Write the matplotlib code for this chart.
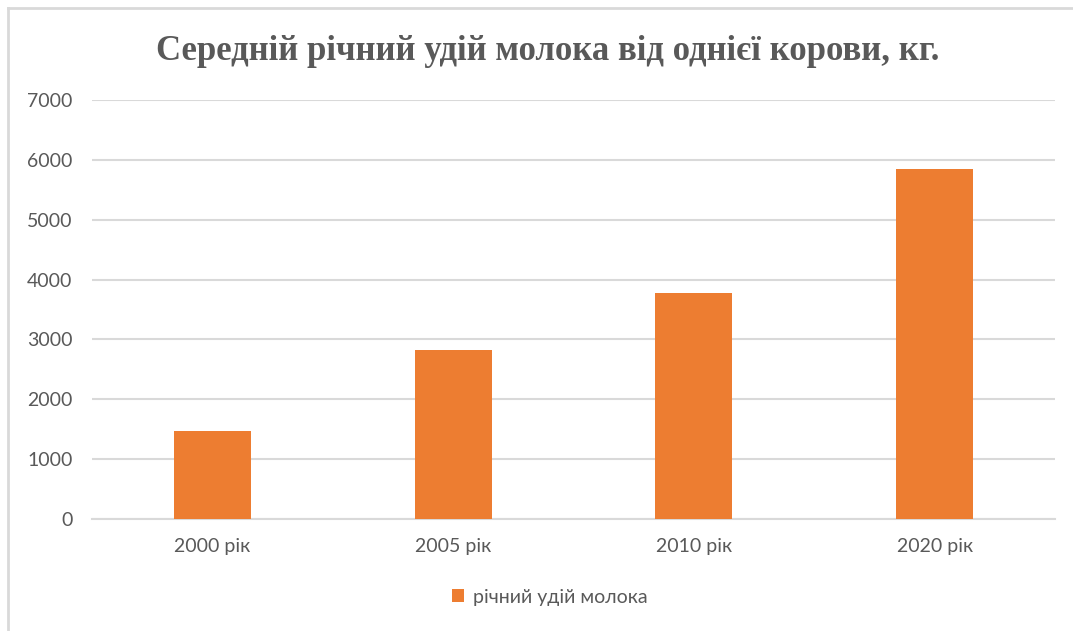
import numpy as np
import matplotlib
matplotlib.use("Agg")
import matplotlib.pyplot as plt
from matplotlib.lines import Line2D

# data
categories = ["2000 рік", "2005 рік", "2010 рік", "2020 рік"]
values = [1470, 2820, 3780, 5847]
series_name = "річний удій молока"
title = "Середній річний удій молока від однієї корови, кг."
yticks = [0, 1000, 2000, 3000, 4000, 5000, 6000, 7000]

orange = "#ED7D31"
text_grey = "#595959"
grid_grey = "#D9D9D9"

plt.rcParams['font.family'] = ['Lato', 'DejaVu Sans']

W, H = 1073, 631
fig = plt.figure(figsize=(W / 100, H / 100), dpi=100)
ax = fig.add_axes([92 / W, 1 - 519 / H, (1055 - 92) / W, (519 - 100) / H])

x = np.arange(len(categories))
ax.bar(x, values, width=0.32, color=orange, label=series_name, zorder=3)

ax.set_xlim(-0.5, len(categories) - 0.5)
ax.set_ylim(0, 7000)
ax.set_yticks(yticks)
ax.set_xticks(x)
ax.set_xticklabels(categories)
ax.tick_params(axis='both', length=0, labelsize=14, labelcolor=text_grey)
ax.tick_params(axis='y', pad=14)
ax.tick_params(axis='x', pad=14)

ax.grid(axis='y', color=grid_grey, linewidth=1.5, zorder=0)
for side in ['top', 'right', 'left']:
    ax.spines[side].set_visible(False)
ax.spines['bottom'].set_color(grid_grey)
ax.spines['bottom'].set_linewidth(1.5)

fig.text(548 / W, 1 - 52 / H, title, ha='center', va='center',
         fontsize=25, fontweight='bold', color=text_grey,
         family=['Liberation Serif', 'DejaVu Serif'])

leg = fig.legend(loc='center', bbox_to_anchor=(550 / W, 1 - 597 / H),
                 frameon=False, fontsize=14, handlelength=0.6, handleheight=0.6,
                 handletextpad=0.5)
for t in leg.get_texts():
    t.set_color(text_grey)

# light frame around the chart area
fig.add_artist(Line2D([8 / W, 8 / W], [0, 1 - 8 / H], transform=fig.transFigure,
                      color=grid_grey, linewidth=2))
fig.add_artist(Line2D([8 / W, 1], [1 - 8 / H, 1 - 8 / H], transform=fig.transFigure,
                      color=grid_grey, linewidth=2))

fig.savefig("out.png", dpi=100, facecolor='white')
